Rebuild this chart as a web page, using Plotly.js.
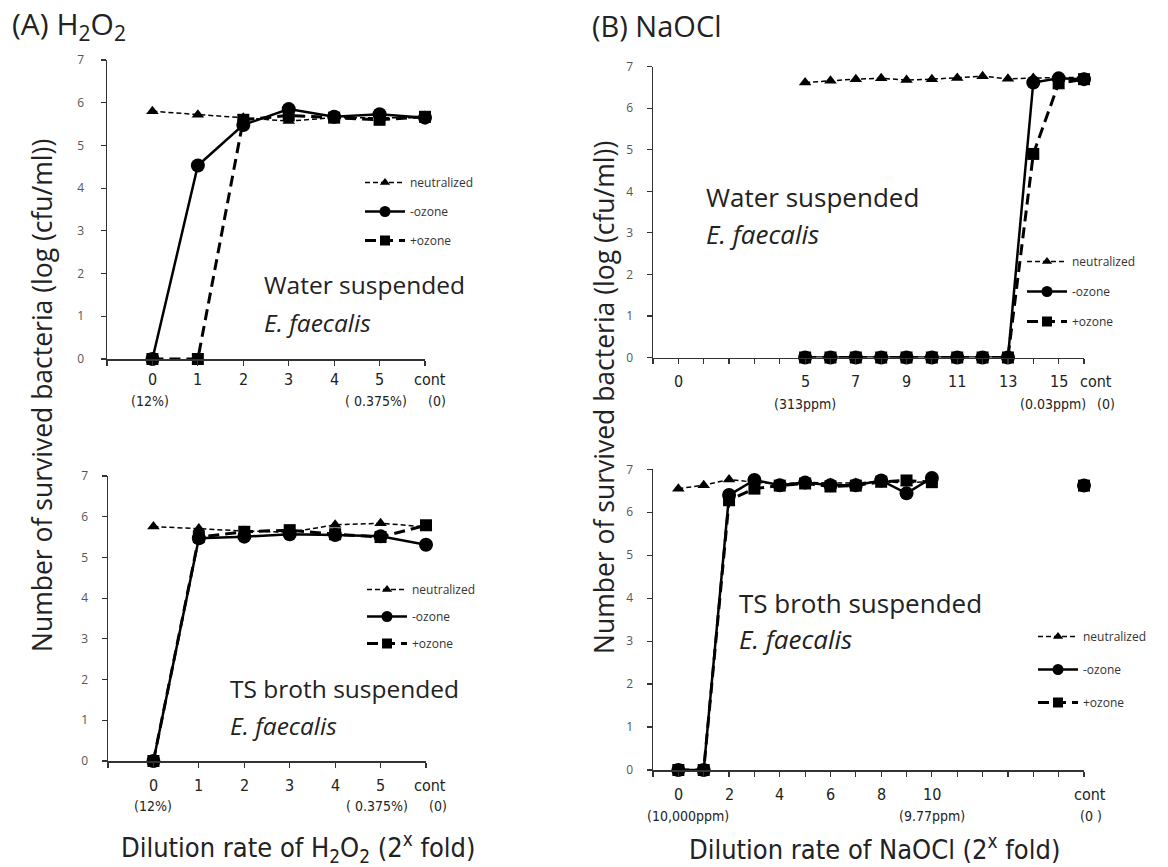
<!DOCTYPE html>
<html><head><meta charset="utf-8">
<script src="https://cdn.plot.ly/plotly-3.0.1.min.js"></script>
<style>html,body{margin:0;padding:0;background:#fff}#chart{width:1168px;height:867px}</style>
</head><body><div id="chart"></div>
<script>
// ================= DATA =================
const seriesNames = ['neutralized', '-ozone', '+ozone'];

// (A) H2O2 : dilution step (2^x fold); 6 = cont (untreated control)
const xA = [0, 1, 2, 3, 4, 5, 6];
const A_tickVals = [0, 1, 2, 3, 4, 5, 6];
const A_tickText = ['0', '1', '2', '3', '4', '5', 'cont'];
const A_subVals = [0, 5, 6];
const A_subText = ['(12%)', '( 0.375%)', '(0)'];

const A_water_neutralized = [5.80, 5.72, 5.65, 5.57, 5.65, 5.65, 5.65];
const A_water_minusOzone  = [0, 4.53, 5.48, 5.85, 5.67, 5.73, 5.65];
const A_water_plusOzone   = [0, 0, 5.60, 5.70, 5.65, 5.60, 5.67];

const A_broth_neutralized = [5.76, 5.71, 5.65, 5.62, 5.80, 5.84, 5.75];
const A_broth_minusOzone  = [0, 5.47, 5.51, 5.57, 5.55, 5.52, 5.31];
const A_broth_plusOzone   = [0, 5.50, 5.63, 5.67, 5.57, 5.50, 5.79];

// (B) NaOCl : dilution step (2^x fold); 16 = cont
const xB_water = [5, 6, 7, 8, 9, 10, 11, 12, 13, 14, 15, 16];
const B_water_tickVals = [0, 5, 7, 9, 11, 13, 15, 16];
const B_water_tickText = ['0', '5', '7', '9', '11', '13', '15', 'cont'];
const B_water_subVals = [5, 15, 16];
const B_water_subText = ['(313ppm)', '(0.03ppm)', '(0)'];

const B_water_neutralized = [6.62, 6.66, 6.70, 6.72, 6.68, 6.70, 6.73, 6.77, 6.71, 6.73, 6.74, 6.74];
const B_water_minusOzone  = [0, 0, 0, 0, 0, 0, 0, 0, 0, 6.62, 6.72, 6.70];
const B_water_plusOzone   = [0, 0, 0, 0, 0, 0, 0, 0, 0, 4.90, 6.60, 6.70];

const xB_broth = [0, 1, 2, 3, 4, 5, 6, 7, 8, 9, 10, 11, 12, 13, 14, 15, 16];
const B_broth_tickVals = [0, 2, 4, 6, 8, 10, 16];
const B_broth_tickText = ['0', '2', '4', '6', '8', '10', 'cont'];
const B_broth_subVals = [0, 10, 16];
const B_broth_subText = ['(10,000ppm)', '(9.77ppm)', '(0 )'];

const B_broth_neutralized = [6.55, 6.63, 6.76, 6.70, 6.66, 6.70, 6.68, 6.68, 6.72, 6.68, 6.72, null, null, null, null, null, 6.65];
const B_broth_minusOzone  = [0, 0, 6.40, 6.75, 6.63, 6.69, 6.63, 6.63, 6.74, 6.44, 6.80, null, null, null, null, null, 6.62];
const B_broth_plusOzone   = [0, 0, 6.28, 6.55, 6.62, 6.67, 6.60, 6.62, 6.71, 6.74, 6.70, null, null, null, null, null, 6.62];

// ================= STYLE / LAYOUT =================
const W = 1168, H = 867;
const px = v => v / W;
const py = v => 1 - v / H;
const FONT = 'Open Sans, Noto Sans, sans-serif';
const NARROW = '"Liberation Sans Narrow", "DejaVu Sans Condensed", "Open Sans", sans-serif';

const styles = {
  neutralized: {line: {color: '#000', width: 1.5, dash: '5px,3px'}, marker: {symbol: 'triangle-up', size: 11, color: '#000'}},
  minus:       {line: {color: '#000', width: 2.5, dash: 'solid'}, marker: {symbol: 'circle', size: 14, color: '#000'}},
  plus:        {line: {color: '#000', width: 3,   dash: '11px,6px'}, marker: {symbol: 'square', size: 12, color: '#000'}}
};
const legendMarkerSize = {neutralized: 9, minus: 11, plus: 10};

function tr(x, y, name, st, ax) {
  return {
    type: 'scatter', mode: 'lines+markers', x: x, y: y, name: name,
    xaxis: 'x' + ax, yaxis: 'y' + ax, cliponaxis: false, connectgaps: false,
    line: st.line, marker: st.marker, showlegend: false, hoverinfo: 'skip'
  };
}
// legend-only entries (no points) so legend symbols can be smaller than plot markers
function legTr(name, key, ax, leg, rank) {
  const st = styles[key];
  return {
    type: 'scatter', mode: 'lines+markers', x: [null], y: [null], name: name,
    xaxis: 'x' + ax, yaxis: 'y' + ax, legend: leg, legendgroup: leg + name, legendrank: rank,
    line: st.line, marker: Object.assign({}, st.marker, {size: legendMarkerSize[key]}), showlegend: true
  };
}

const data = [
  // A top (water): +ozone above -ozone
  tr(xA, A_water_neutralized, seriesNames[0], styles.neutralized, ''),
  tr(xA, A_water_minusOzone,  seriesNames[1], styles.minus, ''),
  tr(xA, A_water_plusOzone,   seriesNames[2], styles.plus, ''),
  // A bottom (broth): -ozone on top
  tr(xA, A_broth_neutralized, seriesNames[0], styles.neutralized, '2'),
  tr(xA, A_broth_plusOzone,   seriesNames[2], styles.plus, '2'),
  tr(xA, A_broth_minusOzone,  seriesNames[1], styles.minus, '2'),
  // B top (water): -ozone on top
  tr(xB_water, B_water_neutralized, seriesNames[0], styles.neutralized, '3'),
  tr(xB_water, B_water_plusOzone,   seriesNames[2], styles.plus, '3'),
  tr(xB_water, B_water_minusOzone,  seriesNames[1], styles.minus, '3'),
  // B bottom (broth)
  tr(xB_broth, B_broth_neutralized, seriesNames[0], styles.neutralized, '4'),
  tr(xB_broth, B_broth_minusOzone,  seriesNames[1], styles.minus, '4'),
  tr(xB_broth, B_broth_plusOzone,   seriesNames[2], styles.plus, '4')
];
[['', 'legend'], ['2', 'legend2'], ['3', 'legend3'], ['4', 'legend4']].forEach(([ax, leg]) => {
  data.push(legTr(seriesNames[0], 'neutralized', ax, leg, 1));
  data.push(legTr(seriesNames[1], 'minus', ax, leg, 2));
  data.push(legTr(seriesNames[2], 'plus', ax, leg, 3));
});

function xax(dom, range, dt) {
  return {domain: [px(dom[0]), px(dom[1])], range: range, tick0: range[0], dtick: dt,
    showline: true, linecolor: '#333', linewidth: 1.5, ticks: 'outside', ticklen: 5, tickwidth: 1.2,
    tickcolor: '#333', showticklabels: false, showgrid: false, zeroline: false, fixedrange: true};
}
function yax(dom, anchor, standoff) {
  return {domain: [py(dom[1]), py(dom[0])], range: [0, 7], dtick: 1, anchor: anchor,
    showline: true, linecolor: '#333', linewidth: 1.5, ticks: 'outside', ticklen: 5, tickwidth: 1.2,
    tickcolor: '#333', ticklabelstandoff: standoff,
    tickfont: {family: FONT, size: 12, color: '#555'}, showgrid: false, zeroline: false, fixedrange: true};
}

const layout = {
  width: W, height: H, margin: {l: 0, r: 0, t: 0, b: 0},
  paper_bgcolor: '#fff', plot_bgcolor: 'rgba(0,0,0,0)', showlegend: true,
  xaxis:  Object.assign(xax([107, 425], [-1, 6], 1), {anchor: 'y'}),
  yaxis:  yax([60, 359], 'x', 14),
  xaxis2: Object.assign(xax([108, 426], [-1, 6], 1), {anchor: 'y2'}),
  yaxis2: yax([476, 761], 'x2', 11),
  xaxis3: Object.assign(xax([653, 1084], [-1, 16], 1), {anchor: 'y3'}),
  yaxis3: yax([66.7, 357.5], 'x3', 11),
  xaxis4: Object.assign(xax([653, 1084], [-1, 16], 1), {anchor: 'y4'}),
  yaxis4: yax([469.3, 770], 'x4', 11),
  annotations: [],
  font: {family: FONT, color: '#222'}
};

function legendAt(x, y, gap) {
  return {x: px(x), y: py(y), xanchor: 'left', yanchor: 'top', xref: 'paper', yref: 'paper',
    bgcolor: 'rgba(0,0,0,0)', borderwidth: 0, itemwidth: 40, traceorder: 'grouped',
    tracegroupgap: gap, font: {family: FONT, size: 12, color: '#333'}, itemclick: false};
}
layout.legend  = legendAt(360, 168, 10);
layout.legend2 = legendAt(362, 575, 8);
layout.legend3 = legendAt(1022, 247, 11);
layout.legend4 = legendAt(1033, 622, 14);

const ann = layout.annotations;
// label placement tweaks (pixels), per panel: [contShift, subShifts]
function tickLabels(ax, vals, text, sub, subText, d1, d2, contShift, subShift) {
  vals.forEach((v, i) => ann.push({xref: 'x' + ax, yref: 'y' + ax, x: v, y: 0, yshift: -d1,
    text: text[i], showarrow: false, yanchor: 'middle', xanchor: 'center',
    xshift: text[i] === 'cont' ? contShift : 0,
    font: {family: NARROW, size: 16, color: '#222'}}));
  sub.forEach((v, i) => ann.push({xref: 'x' + ax, yref: 'y' + ax, x: v, y: 0, yshift: -d2,
    text: subText[i], showarrow: false, yanchor: 'middle', xanchor: 'center',
    xshift: subShift[i],
    font: {family: NARROW, size: 14, color: '#222'}}));
}
tickLabels('', A_tickVals, A_tickText, A_subVals, A_subText, 21, 42, 5, [-2, -4, 12]);
tickLabels('2', A_tickVals, A_tickText, A_subVals, A_subText, 24, 45, 4, [0, -4, 12]);
tickLabels('3', B_water_tickVals, B_water_tickText, B_water_subVals, B_water_subText, 24, 46, 12, [0, -6, 22]);
tickLabels('4', B_broth_tickVals, B_broth_tickText, B_broth_subVals, B_broth_subText, 24, 46, 6, [10, 0, 7]);

function txt(x, y, t, size, opts) {
  ann.push(Object.assign({xref: 'paper', yref: 'paper', x: px(x), y: py(y), text: t, showarrow: false,
    xanchor: 'left', yanchor: 'middle', font: {family: FONT, size: size, color: '#222'}}, opts || {}));
}
// panel titles
txt(10, 25, '(A) H<sub>2</sub>O<sub>2</sub>', 30);
txt(590, 25, '(B) NaOCl', 29);
// y-axis titles
txt(42, 396, 'Number of survived bacteria (log (cfu/ml))', 26.5, {textangle: -90, xanchor: 'center'});
txt(604, 398, 'Number of survived bacteria (log (cfu/ml))', 26.5, {textangle: -90, xanchor: 'center'});
// x-axis titles
const xtFont = {family: NARROW, size: 27, color: '#222'};
txt(298, 847, 'Dilution rate of H<sub>2</sub>O<sub>2</sub> (2<sup>x</sup> fold)', 27, {xanchor: 'center', font: xtFont});
txt(874, 847, 'Dilution rate of NaOCl (2<sup>x</sup> fold)', 27, {xanchor: 'center', font: xtFont});
// condition labels
txt(262, 285, 'Water suspended', 24.5);
txt(262, 322, '<i>E. faecalis</i>', 24.5);
txt(228, 688, 'TS broth suspended', 24.5);
txt(228, 725, '<i>E. faecalis</i>', 24.5);
txt(704, 197, 'Water suspended', 26);
txt(704, 234, '<i>E. faecalis</i>', 26);
txt(737, 603, 'TS broth suspended', 26);
txt(737, 639, '<i>E. faecalis</i>', 26);

Plotly.newPlot('chart', data, layout, {displayModeBar: false, staticPlot: true});
</script>
</body></html>
